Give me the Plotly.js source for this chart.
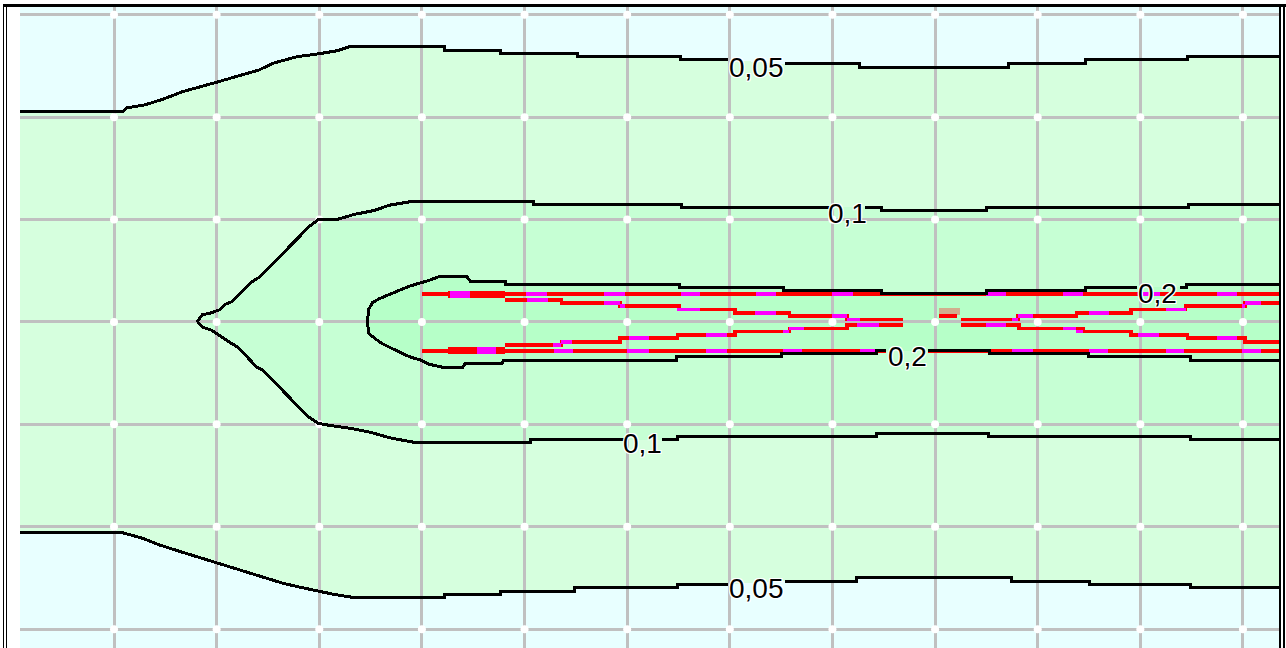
<!DOCTYPE html>
<html>
<head>
<meta charset="utf-8">
<script src="https://cdn.plot.ly/plotly-3.0.1.min.js"></script>
<style>
  html, body { margin: 0; padding: 0; background: #ffffff; }
  #wrap { position: relative; width: 1286px; height: 648px; overflow: hidden; }
  #chart { position: absolute; left: 0; top: 0; width: 1286px; height: 648px; }
  #chart path.js-line, #chart path.js-fill { shape-rendering: crispEdges; }
  .rule { position: absolute; background: #000000; pointer-events: none; }
</style>
</head>
<body>
<div id="wrap">
  <div id="chart"></div>
  <div class="rule" style="left:3px;top:4px;width:1283px;height:3px"></div>
  <div class="rule" style="left:3px;top:4px;width:1px;height:644px"></div>
  <div class="rule" style="left:6px;top:4px;width:1px;height:644px"></div>
  <div class="rule" style="left:1279px;top:4px;width:2px;height:644px"></div>
  <div class="rule" style="left:1283px;top:4px;width:2px;height:644px"></div>
</div>
<script>
// Plan-view concentration field: 100 units per grid cell, centreline at y = 0.
const X_RANGE = [8.4, 1235.1];
const Y_RANGE = [-318.4, 307.6];
const gridX = [100, 200, 300, 400, 500, 600, 700, 800, 900, 1000, 1100, 1200];
const gridY = [-300, -200, -100, 0, 100, 200, 300];

// Isolines (null = break under the isoline label)
const c005UpX = [8,109,112,130,149,167,196,223,241,256,278,300,318,330,422,422,477,477,552,552,652,652,698,null,754,826,826,972,972,1047,1047,1146,1146,1242];
const c005UpY = [206,206,209,212,218,225,233,241,246,253,259,262,265,269,269,265,265,262,262,259,259,256,256,null,252,252,249,249,252,252,256,256,259,259];
const c005LoX = [8,109,127,145,167,196,223,245,264,281,300,314,333,422,422,477,477,549,549,649,649,698,null,754,823,823,974,974,1050,1050,1149,1149,1242];
const c005LoY = [-206,-206,-211,-218,-225,-234,-242,-249,-255,-259,-263,-266,-269,-269,-266,-266,-263,-263,-259,-259,-256,-256,null,-253,-253,-250,-250,-253,-253,-256,-256,-259,-259];

const c01UpX = [181,186,195,203,208,215,221,228,234,242,263,279,290,299,317,334,354,368,392,509,509,653,653,800,null,832,848,848,950,950,1147,1147,1242];
const c01UpY = [0,7,9,12,17,20,26,33,39,44,65,82,93,100,100,105,109,114,118,118,115,115,112,112,null,112,112,109,109,112,112,115,115];
const c01LoX = [181,186,195,205,213,221,230,239,245,263,276,290,299,310,331,351,368,395,506,506,600,null,634,649,649,843,843,952,952,1149,1149,1242];
const c01LoY = [0,-5,-8,-15,-20,-25,-35,-44,-47,-66,-79,-93,-99,-101,-104,-108,-113,-118,-118,-115,-115,null,-115,-115,-112,-112,-109,-109,-112,-112,-115,-115];

const c02UpX = [347,348,352,359,371,381,388,398,405,416,444,447,481,481,651,651,752,752,848,848,950,950,1047,1047,1097,null,1139,1145,1145,1242];
const c02UpY = [0,12,19,23,28,32,35,38,40,44,44,40,40,37,37,34,34,31,31,28,28,31,31,34,34,null,34,34,37,37];
const c02LoX = [347,348,354,361,369,379,388,398,406,419,440,442,478,479,648,648,750,750,843,843,852,null,893,953,953,1049,1049,1149,1149,1242];
const c02LoY = [0,-11,-16,-21,-25,-30,-34,-37,-41,-44,-44,-41,-41,-38,-38,-34,-34,-31,-31,-28,-28,null,-28,-28,-31,-31,-34,-34,-38,-38];

// Isoline labels
const labelText = ['0,05', '0,05', '0,1', '0,1', '0,2', '0,2'];
const labelX = [726, 726, 815, 615, 1117, 873];
const labelY = [249, -260, 106, -119, 28, -34];

// Particle tracks: outer tracks (straight) and inner tracks (stepped)
const trackA = [[400, 1242, 27]];
const trackD = [[400, 852, -28], [893, 1242, -28]];
const trackThick = [[425, 481, 27], [425, 481, -28]];
const trackBLeftX = [481, 536, 593, 651, 705, 758, 814, 869];
const trackBLeftY = [21.5, 18.5, 15.5, 12, 9, 6, 2.5];
const trackBRightX = [925, 981, 1038, 1091, 1144, 1202, 1242];
const trackBRightY = [2.5, 6, 9, 12, 15.5, 18.5];
const trackBStub = [[904, 921, 6]];
const trackCLeftX = [481, 536, 593, 649, 705, 758, 814, 869];
const trackCLeftY = [-22.5, -19.5, -15.5, -12.5, -9.5, -6.5, -3];
const trackCRightX = [925, 982, 1044, 1091, 1146, 1202, 1242];
const trackCRightY = [-3, -6.5, -9.5, -12.5, -15.5, -19.5];

// Highlighted track sections [x0, x1, y]
const magentaA = [[501,522,27],[577,598,27],[652,671,27],[726,745,27],[800,820,27],[950,969,27],[1025,1044,27],[1100,1119,27],[1175,1194,27]];
const magentaD = [[529,547,-28],[600,621,-28],[677,697,-28],[752,770,-28],[827,843,-28],[975,995,-28],[1050,1068,-28],[1125,1143,-28],[1199,1218,-28]];
const magentaB = [[502,523,21.5],[577,593,18.5],[593,598,15.5],[649,671,12],[725,745,9],[800,814,6],[814,827,2.5],[975,981,2.5],[981,995,6],[1050,1069,9],[1125,1144,12],[1199,1202,15.5],[1202,1218,18.5]];
const magentaC = [[528,536,-22.5],[536,546,-19.5],[602,621,-15.5],[677,697,-12.5],[752,758,-9.5],[758,772,-6.5],[824,845,-3],[950,969,-3],[1025,1037,-6.5],[1037,1044,-9.5],[1098,1118,-12.5],[1175,1194,-15.5]];
const magentaThick = [[427,447,27],[454,472,-28]];

// Source marker
const sourceX = [904, 924, 924, 904, 904];
const sourceY = [6.8, 6.8, 13.7, 13.7, 6.8];

const BAND_COLORS = ['#d6ffde', '#c6ffd4', '#b6ffc8'];
const OUTER_COLOR = '#e8ffff';

function clean(xs, ys) {
  const x = [], y = [];
  xs.forEach((v, i) => { if (v !== null) { x.push(v); y.push(ys[i]); } });
  return { x, y };
}
function reversed(p) { return { x: p.x.slice().reverse(), y: p.y.slice().reverse() }; }
function joinPaths(a, b) { return { x: a.x.concat(b.x), y: a.y.concat(b.y) }; }
function steps(xs, lv) {
  const x = [], y = [];
  for (let i = 0; i < lv.length; i++) { x.push(xs[i], xs[i + 1]); y.push(lv[i], lv[i]); }
  return { x, y };
}
function segs(list) {
  const x = [], y = [];
  list.forEach(s => { x.push(s[0], s[1], null); y.push(s[2], s[2], null); });
  return { x, y };
}

const up005 = clean(c005UpX, c005UpY), lo005 = clean(c005LoX, c005LoY);
const up01 = clean(c01UpX, c01UpY), lo01 = clean(c01LoX, c01LoY);
const up02 = clean(c02UpX, c02UpY), lo02 = clean(c02LoX, c02LoY);

const band1 = joinPaths(up005, reversed(lo005));
const band2 = joinPaths(reversed(up01), lo01);
const band3 = joinPaths(reversed(up02), lo02);

function fillTrace(p, color) {
  return { type: 'scatter', mode: 'lines', x: p.x, y: p.y, fill: 'toself', fillcolor: color,
           line: { width: 0 }, hoverinfo: 'skip' };
}
function lineTrace(p, color, width) {
  return { type: 'scatter', mode: 'lines', x: p.x, y: p.y, connectgaps: false,
           line: { color: color, width: width, shape: 'linear' }, hoverinfo: 'skip' };
}

// Grid lines and intersection dots
const gLine = { x: [], y: [] };
gridX.forEach(v => { gLine.x.push(v, v, null); gLine.y.push(Y_RANGE[0] - 20, Y_RANGE[1] + 20, null); });
gridY.forEach(v => { gLine.x.push(X_RANGE[0] - 20, X_RANGE[1] + 20, null); gLine.y.push(v, v, null); });
const dots = { x: [], y: [] };
gridX.forEach(a => gridY.forEach(b => { dots.x.push(a); dots.y.push(b); }));

const contourLines = [
  { x: c005UpX, y: c005UpY }, { x: c005LoX, y: c005LoY },
  { x: c01UpX, y: c01UpY }, { x: c01LoX, y: c01LoY },
  { x: c02UpX, y: c02UpY }, { x: c02LoX, y: c02LoY }
];

const traces = [
  fillTrace(band1, BAND_COLORS[0]),
  fillTrace(band2, BAND_COLORS[1]),
  fillTrace(band3, BAND_COLORS[2]),
  { type: 'scatter', mode: 'lines', x: sourceX, y: sourceY, fill: 'toself',
    fillcolor: 'rgba(214,160,130,0.85)', line: { width: 0 }, hoverinfo: 'skip' },
  lineTrace(gLine, '#c0c0c0', 3),
  { type: 'scatter', mode: 'markers', x: dots.x, y: dots.y,
    marker: { symbol: 'circle', size: 8, color: '#ffffff', line: { width: 0 } }, hoverinfo: 'skip' },
  lineTrace(segs(trackA), '#ff0000', 4),
  lineTrace(segs(trackD), '#ff0000', 4),
  lineTrace(segs(trackThick), '#ff0000', 6.5),
  lineTrace(steps(trackBLeftX, trackBLeftY), '#ff0000', 3.5),
  lineTrace(steps(trackBRightX, trackBRightY), '#ff0000', 3.5),
  lineTrace(segs(trackBStub), '#ff0000', 3.5),
  lineTrace(steps(trackCLeftX, trackCLeftY), '#ff0000', 3.5),
  lineTrace(steps(trackCRightX, trackCRightY), '#ff0000', 3.5),
  lineTrace(segs(magentaA), '#ff00ff', 4),
  lineTrace(segs(magentaD), '#ff00ff', 4),
  lineTrace(segs(magentaB), '#ff00ff', 3.5),
  lineTrace(segs(magentaC), '#ff00ff', 3.5),
  lineTrace(segs(magentaThick), '#ff00ff', 6.5)
].concat(contourLines.map(p => lineTrace(p, '#000000', 3)));

const halo = '-1px -1px 0 #fff, 1px -1px 0 #fff, -1px 1px 0 #fff, 1px 1px 0 #fff, 0 1px 0 #fff, 0 -1px 0 #fff, 1px 0 0 #fff, -1px 0 0 #fff';
const annotations = labelText.map((t, i) => ({
  x: labelX[i], y: labelY[i], xref: 'x', yref: 'y', text: t, showarrow: false,
  xanchor: 'center', yanchor: 'middle',
  font: { family: 'Liberation Sans, Arial, sans-serif', size: 28, color: '#000000', shadow: halo }
}));

const axisBase = { showgrid: false, zeroline: false, showticklabels: false, ticks: '',
                   showline: false, fixedrange: true };

const layout = {
  width: 1286, height: 648,
  margin: { l: 20, r: 7, t: 7, b: 0, pad: 0 },
  paper_bgcolor: '#ffffff',
  plot_bgcolor: OUTER_COLOR,
  showlegend: false,
  xaxis: Object.assign({ range: X_RANGE }, axisBase),
  yaxis: Object.assign({ range: Y_RANGE }, axisBase),
  annotations: annotations
};

Plotly.newPlot('chart', traces, layout, { displayModeBar: false, staticPlot: true });
</script>
</body>
</html>
